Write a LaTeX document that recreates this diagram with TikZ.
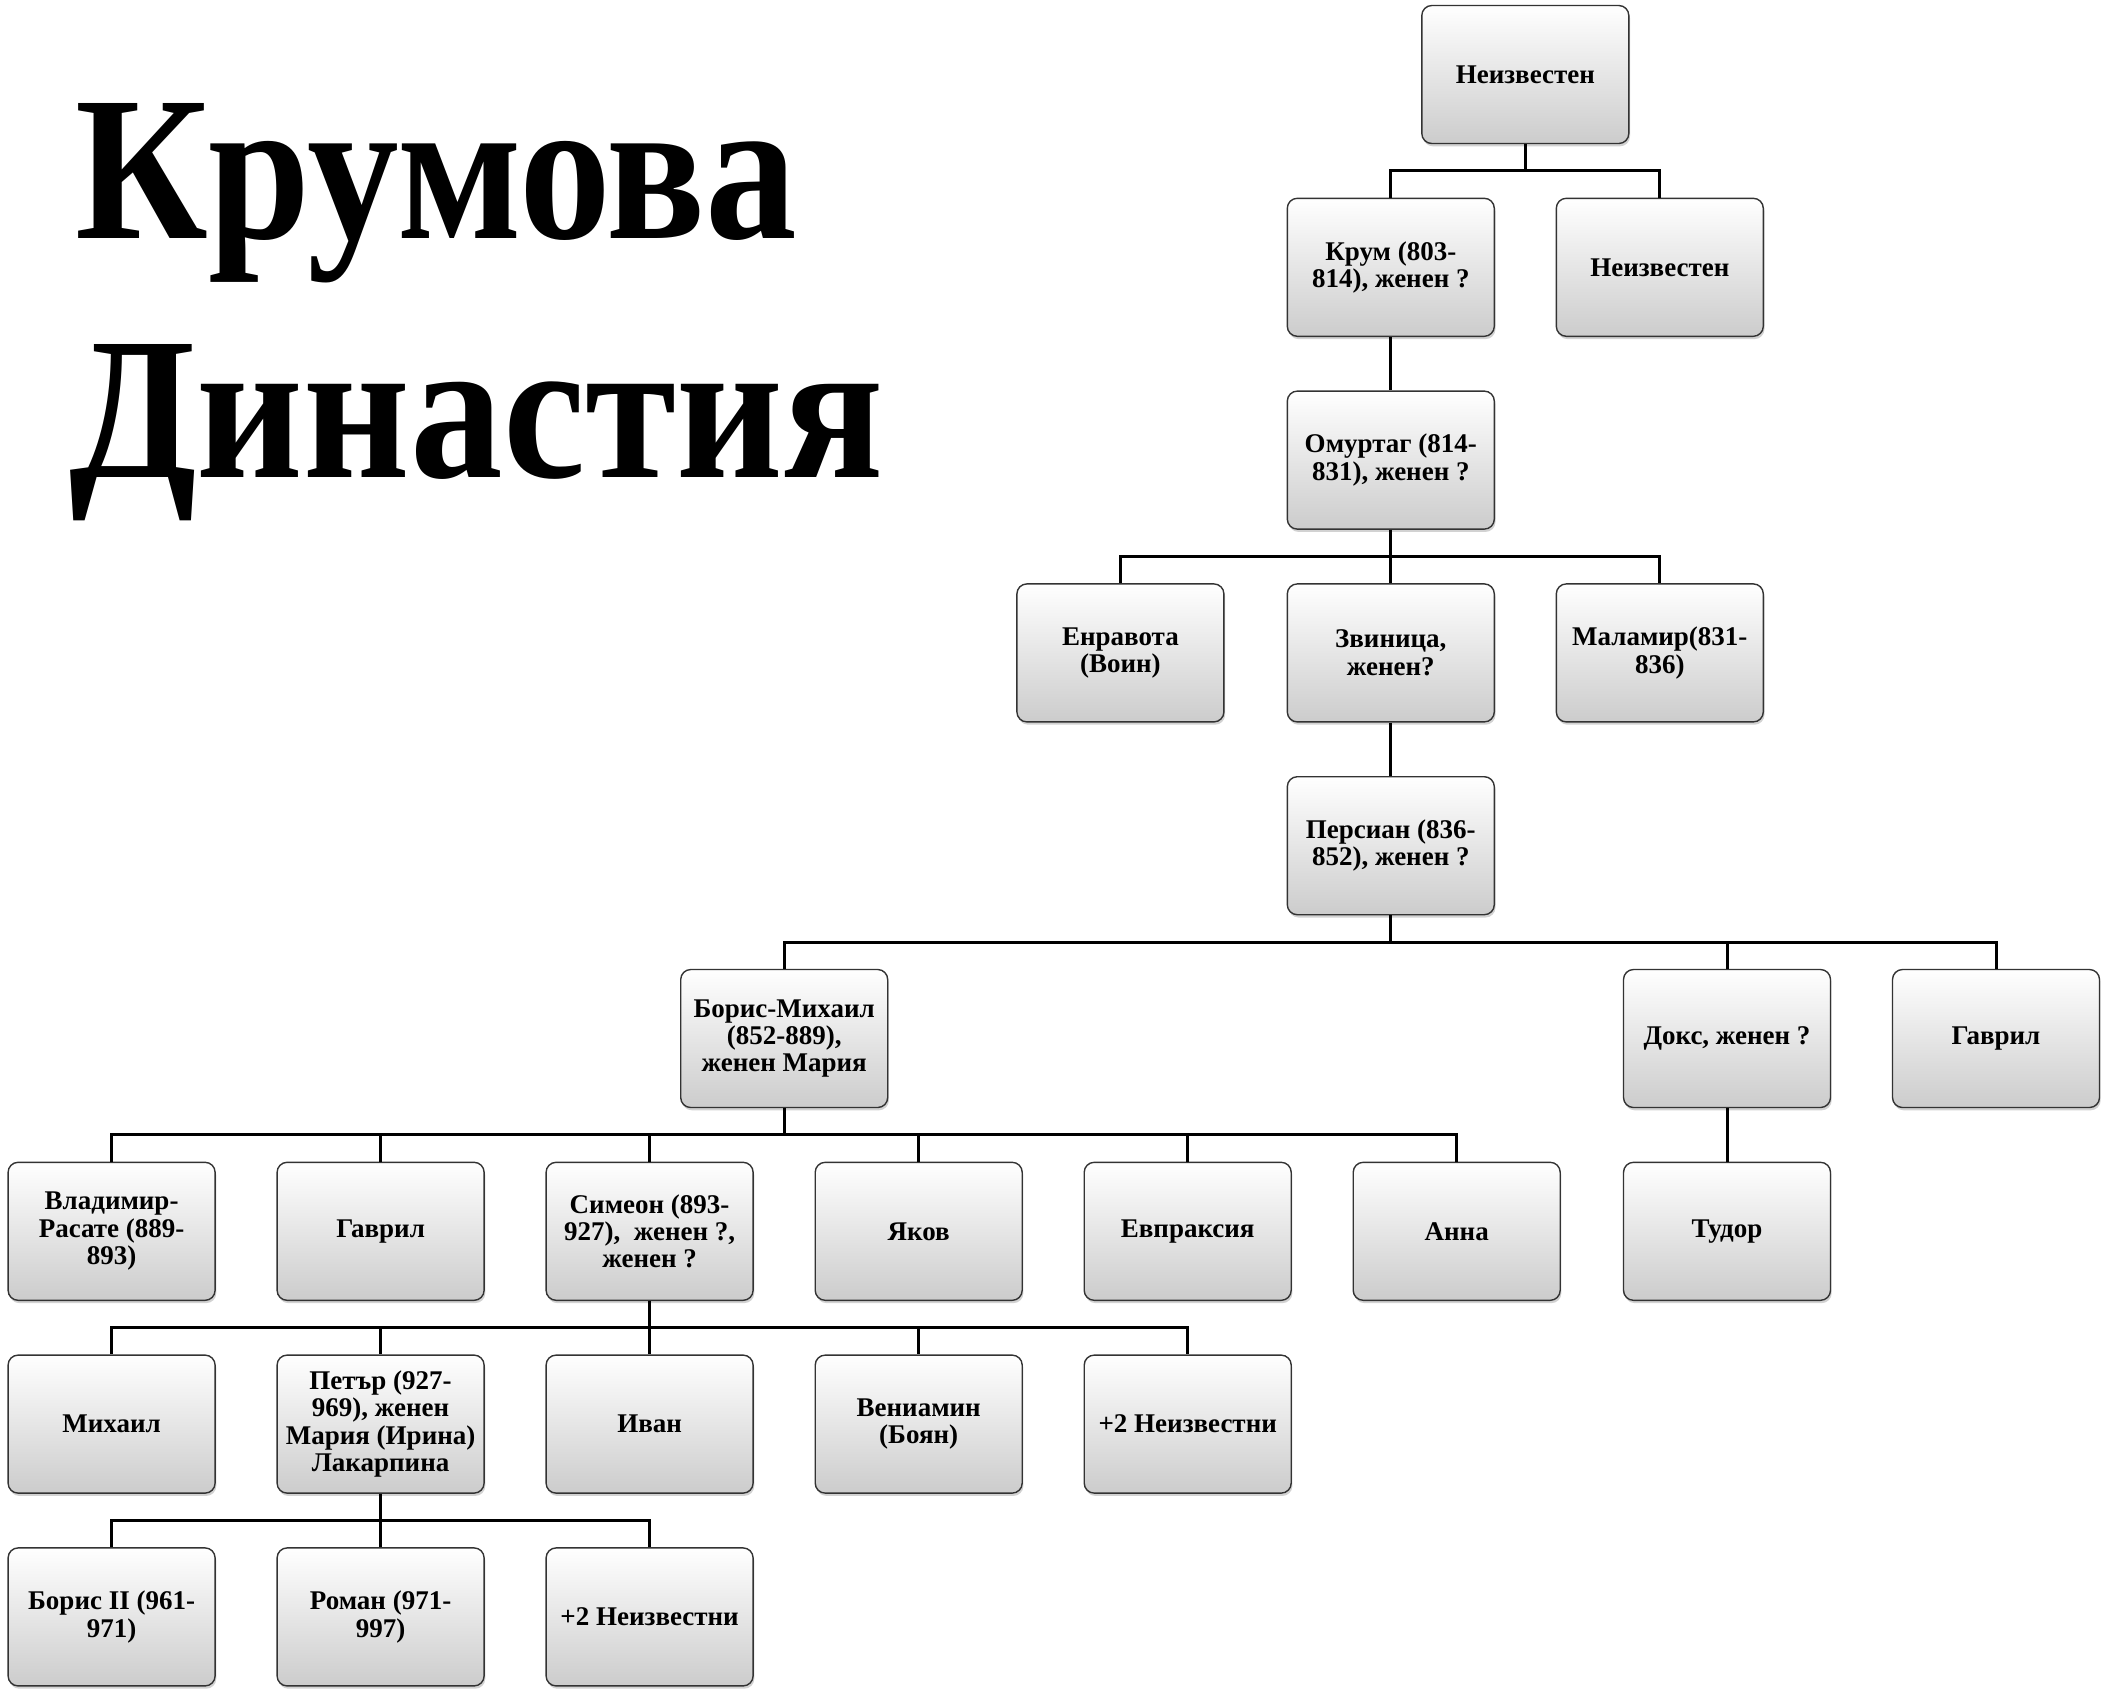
\documentclass[tikz,border=0pt]{standalone}
\usepackage{fontspec}
\setmainfont{Liberation Serif}
\usepackage{graphicx}
\usetikzlibrary{shadows,calc}
\tikzset{
  famnode/.style={rectangle, rounded corners=5pt, draw=black!80, line width=0.7pt,
    top color=white, bottom color=black!20,
    drop shadow={opacity=0.35, shadow xshift=0.6pt, shadow yshift=-1.4pt},
    minimum width=103.5pt, minimum height=69pt, inner sep=2pt, align=center,
    font=\fontsize{13.5}{13.7}\selectfont\bfseries},
  conn/.style={line width=1.5pt, black},
  titletext/.style={anchor=base west, inner sep=0pt}
}
\newcommand{\famlink}[2]{\draw[conn] (#1.south) |- ($(#1.south)!0.5!(#2.north)$) -| (#2.north);}
\begin{document}
\begin{tikzpicture}[x=0.5pt, y=-0.5pt]
\useasboundingbox (0,0) rectangle (2109,1699);
\fill[white] (0,0) rectangle (2109,1699);
% title
\node[titletext] (t1) at (75,238) {\resizebox{361pt}{67.5pt}{\bfseries Крумова}};
\node[titletext] (t2) at (69,477) {\resizebox{407pt}{66.5pt}{\bfseries Династия}};
% row 0
\node[famnode] (n0) at (1525.3,74.5) {Неизвестен};
% row 1
\node[famnode] (krum) at (1390.8,267.3) {Крум (803-\\814), женен ?};
\node[famnode] (n1) at (1659.8,267.3) {Неизвестен};
% row 2
\node[famnode] (omur) at (1390.8,460.1) {Омуртаг (814-\\831), женен ?};
% row 3
\node[famnode] (enr) at (1120.4,652.9) {Енравота\\(Воин)};
\node[famnode] (zvin) at (1390.8,652.9) {Звиница,\\женен?};
\node[famnode] (malam) at (1659.8,652.9) {Маламир(831-\\836)};
% row 4
\node[famnode] (pers) at (1390.8,845.7) {Персиан (836-\\852), женен ?};
% row 5
\node[famnode] (boris) at (784.2,1038.5) {Борис-Михаил\\(852-889),\\женен Мария};
\node[famnode] (doks) at (1727.0,1038.5) {Докс, женен ?};
\node[famnode] (gavr1) at (1996.0,1038.5) {Гаврил};
% row 6
\node[famnode] (vlad) at (111.6,1231.3) {Владимир-\\Расате (889-\\893)};
\node[famnode] (gavr2) at (380.6,1231.3) {Гаврил};
\node[famnode] (sim) at (649.6,1231.3) {Симеон (893-\\927),~ женен ?,\\женен ?};
\node[famnode] (yak) at (918.7,1231.3) {Яков};
\node[famnode] (evp) at (1187.7,1231.3) {Евпраксия};
\node[famnode] (anna) at (1456.7,1231.3) {Анна};
\node[famnode] (tud) at (1727.0,1231.3) {Тудор};
% row 7
\node[famnode] (mih) at (111.6,1424.1) {Михаил};
\node[famnode] (pet) at (380.6,1424.1) {Петър (927-\\969), женен\\Мария (Ирина)\\Лакарпина};
\node[famnode] (ivan) at (649.6,1424.1) {Иван};
\node[famnode] (ven) at (918.7,1424.1) {Вениамин\\(Боян)};
\node[famnode] (unk1) at (1187.7,1424.1) {+2 Неизвестни};
% row 8
\node[famnode] (bor2) at (111.6,1616.9) {Борис II (961-\\971)};
\node[famnode] (rom) at (380.6,1616.9) {Роман (971-\\997)};
\node[famnode] (unk2) at (649.6,1616.9) {+2 Неизвестни};
% connectors
\famlink{n0}{krum}
\famlink{n0}{n1}
\famlink{krum}{omur}
\famlink{omur}{enr}
\famlink{omur}{zvin}
\famlink{omur}{malam}
\famlink{zvin}{pers}
\famlink{pers}{boris}
\famlink{pers}{doks}
\famlink{pers}{gavr1}
\famlink{boris}{vlad}
\famlink{boris}{gavr2}
\famlink{boris}{sim}
\famlink{boris}{yak}
\famlink{boris}{evp}
\famlink{boris}{anna}
\famlink{doks}{tud}
\famlink{sim}{mih}
\famlink{sim}{pet}
\famlink{sim}{ivan}
\famlink{sim}{ven}
\famlink{sim}{unk1}
\famlink{pet}{bor2}
\famlink{pet}{rom}
\famlink{pet}{unk2}
\end{tikzpicture}
\end{document}
